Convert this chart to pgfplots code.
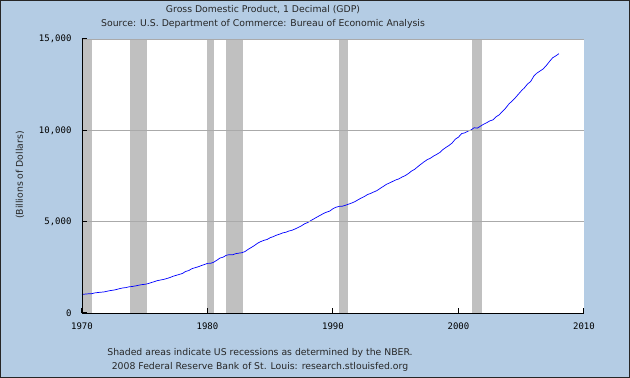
\documentclass[border=0pt]{standalone}
\usepackage{pgfplots}
\pgfplotsset{compat=1.18}
\usepackage{pgfplotstable}
\usepackage{fontspec}
\setmainfont{DejaVu Sans}
\setmonofont{DejaVu Sans Mono}
\definecolor{bgblue}{RGB}{180,204,228}
\definecolor{recgray}{RGB}{192,192,192}
\definecolor{gridgray}{RGB}{170,170,170}
\pgfplotstableread{
x y
1970.00 1019
1970.25 1034
1970.50 1050
1970.75 1053
1971.00 1098
1971.25 1120
1971.50 1138
1971.75 1152
1972.00 1191
1972.25 1228
1972.50 1251
1972.75 1287
1973.00 1335
1973.25 1371
1973.50 1391
1973.75 1434
1974.00 1450
1974.25 1481
1974.50 1517
1974.75 1552
1975.00 1570
1975.25 1605
1975.50 1662
1975.75 1714
1976.00 1772
1976.25 1805
1976.50 1838
1976.75 1886
1977.00 1940
1977.25 2010
1977.50 2061
1977.75 2112
1978.00 2163
1978.25 2272
1978.50 2322
1978.75 2423
1979.00 2478
1979.25 2527
1979.50 2595
1979.75 2653
1980.00 2715
1980.25 2722
1980.50 2781
1980.75 2893
1981.00 3009
1981.25 3058
1981.50 3162
1981.75 3195
1982.00 3186
1982.25 3249
1982.50 3276
1982.75 3301
1983.00 3368
1983.25 3489
1983.50 3591
1983.75 3700
1984.00 3823
1984.25 3912
1984.50 3980
1984.75 4026
1985.00 4122
1985.25 4182
1985.50 4263
1985.75 4316
1986.00 4386
1986.25 4422
1986.50 4490
1986.75 4534
1987.00 4608
1987.25 4689
1987.50 4779
1987.75 4889
1988.00 4956
1988.25 5067
1988.50 5161
1988.75 5262
1989.00 5353
1989.25 5452
1989.50 5526
1989.75 5582
1990.00 5713
1990.25 5793
1990.50 5838
1990.75 5848
1991.00 5899
1991.25 5963
1991.50 6022
1991.75 6099
1992.00 6198
1992.25 6295
1992.50 6375
1992.75 6484
1993.00 6547
1993.25 6626
1993.50 6699
1993.75 6816
1994.00 6927
1994.25 7041
1994.50 7118
1994.75 7202
1995.00 7283
1995.25 7343
1995.50 7441
1995.75 7521
1996.00 7629
1996.25 7767
1996.50 7863
1996.75 8007
1997.00 8143
1997.25 8273
1997.50 8390
1997.75 8469
1998.00 8585
1998.25 8680
1998.50 8782
1998.75 8942
1999.00 9066
1999.25 9175
1999.50 9313
1999.75 9519
2000.00 9629
2000.25 9822
2000.50 9862
2000.75 9954
2001.00 10022
2001.25 10142
2001.50 10120
2001.75 10227
2002.00 10334
2002.25 10418
2002.50 10519
2002.75 10577
2003.00 10742
2003.25 10853
2003.50 11035
2003.75 11212
2004.00 11428
2004.25 11594
2004.50 11760
2004.75 11960
2005.00 12155
2005.25 12324
2005.50 12536
2005.75 12673
2006.00 12965
2006.25 13135
2006.50 13250
2006.75 13365
2007.00 13551
2007.25 13768
2007.50 13970
2007.75 14075
2008.00 14195
}\gdp
\begin{document}
\begin{tikzpicture}[x=1pt,y=1pt]
\fill[bgblue] (0,0) rectangle (630,378);
\draw[black!85, line width=1.2pt] (0.6,0.6) rectangle (629.4,377.4);
\node[font=\fontsize{9.3}{10}\selectfont, text=black!85] at (263,368) {Gross Domestic Product, 1 Decimal (GDP)};
\node[font=\fontsize{9.3}{10}\selectfont, text=black!85] at (263,354) {Source: U.S. Department of Commerce: Bureau of Economic Analysis};
\node[font=\fontsize{9.3}{10}\selectfont, text=black!85] at (260,25) {Shaded areas indicate US recessions as determined by the NBER.};
\node[font=\fontsize{9.3}{10}\selectfont, text=black!85] at (260,11) {2008 Federal Reserve Bank of St. Louis: research.stlouisfed.org};
\node[font=\fontsize{9.3}{10}\selectfont, text=black!85, rotate=90] at (20,203) {(Billions of Dollars)};
\begin{axis}[
  at={(82pt,65pt)}, anchor=south west,
  scale only axis, width=502pt, height=274pt,
  axis on top,
  xmin=1970, xmax=2010, ymin=0, ymax=15000,
  axis x line=bottom, axis y line=left,
  axis line style={-, black, line width=0.9pt},
  axis background/.style={fill=white},
  scaled y ticks=false,
  xtick={1970,1980,1990,2000,2010},
  xticklabels={1970,1980,1990,2000,2010},
  ytick={0,5000,10000,15000},
  yticklabels={0,{5,000},{10,000},{15,000}},
  ymajorgrids, grid style={gridgray, line width=0.7pt},
  tick align=inside,
  major tick length=5pt,
  major tick style={draw=black, line width=1pt},
  tick label style={font=\ttfamily\fontsize{9}{10}\selectfont, text=black},
  yticklabel style={xshift=-7pt},
  xticklabel style={yshift=-6pt},
  clip=false,
]
\addplot[fill=recgray, draw=none] coordinates {(1970,15000) (1970.833,15000)} \closedcycle;
\addplot[fill=recgray, draw=none] coordinates {(1973.80,15000) (1975.20,15000)} \closedcycle;
\addplot[fill=recgray, draw=none] coordinates {(1979.95,15000) (1980.55,15000)} \closedcycle;
\addplot[fill=recgray, draw=none] coordinates {(1981.45,15000) (1982.85,15000)} \closedcycle;
\addplot[fill=recgray, draw=none] coordinates {(1990.45,15000) (1991.20,15000)} \closedcycle;
\addplot[fill=recgray, draw=none] coordinates {(2001.10,15000) (2001.87,15000)} \closedcycle;
\addplot[blue, line width=0.7pt] table[x=x,y=y] {\gdp};
\end{axis}
\end{tikzpicture}
\end{document}
